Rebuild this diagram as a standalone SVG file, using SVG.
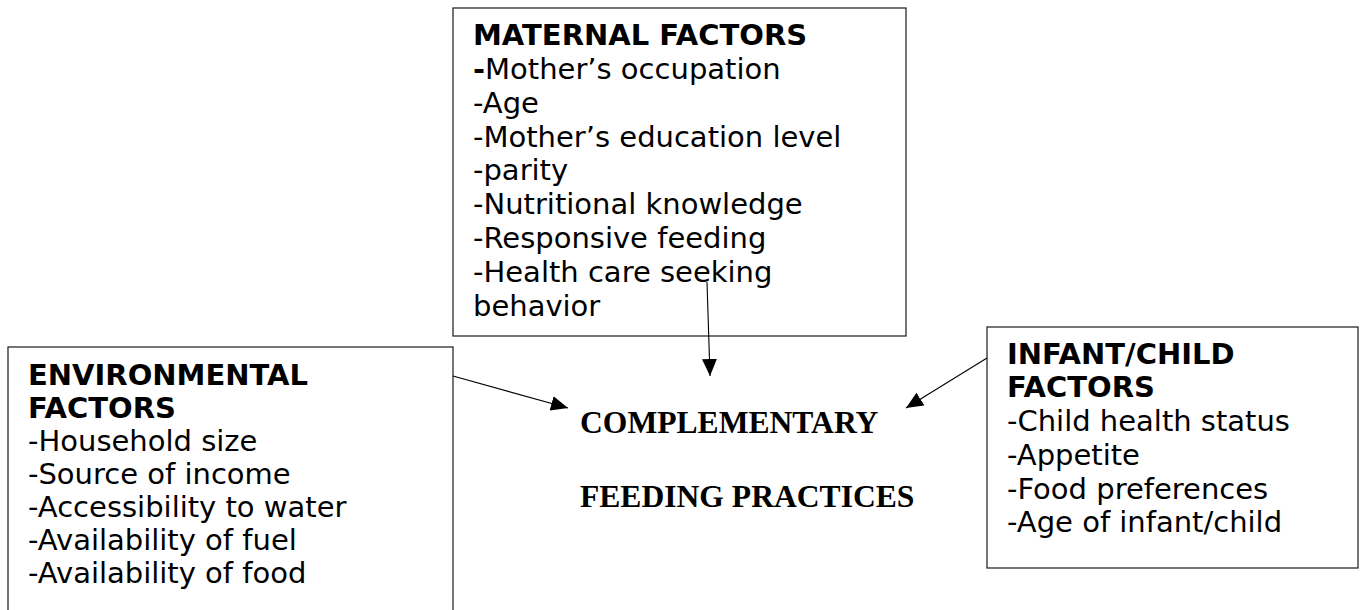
<svg xmlns="http://www.w3.org/2000/svg" width="1362" height="610" viewBox="0 0 1362 610">
  <style>
    .box { fill: #ffffff; stroke: #1a1a1a; stroke-width: 1.2; }
    .txt { font-family: "DejaVu Sans", "Liberation Sans", sans-serif; font-size: 29px; fill: #000; }
    .head { font-weight: bold; }
    .center { font-family: "Liberation Serif", "Times New Roman", serif; font-size: 31.6px; font-weight: bold; fill: #000; }
    .link { stroke: #000; stroke-width: 1.1; fill: none; }
  </style>
  <defs>
    <marker id="arrow" viewBox="0 0 17 15" refX="17" refY="7.5" markerWidth="17" markerHeight="15" markerUnits="userSpaceOnUse" orient="auto">
      <path d="M0,0 L17,7.5 L0,15 Z" fill="#000"/>
    </marker>
  </defs>

  <rect width="1362" height="610" fill="#ffffff"/>

  <!-- Maternal factors -->
  <g id="maternal">
    <rect class="box" x="453" y="8" width="453" height="328"/>
    <text class="txt">
      <tspan class="head" x="473" y="45">MATERNAL FACTORS</tspan>
      <tspan x="473" y="79"><tspan class="head">-</tspan>Mother’s occupation</tspan>
      <tspan x="473" y="113">-Age</tspan>
      <tspan x="473" y="147">-Mother’s education level</tspan>
      <tspan x="473" y="180">-parity</tspan>
      <tspan x="473" y="214">-Nutritional knowledge</tspan>
      <tspan x="473" y="248">-Responsive feeding</tspan>
      <tspan x="473" y="282">-Health care seeking</tspan>
      <tspan x="473" y="316">behavior</tspan>
    </text>
  </g>

  <!-- Environmental factors -->
  <g id="environmental">
    <rect class="box" x="8" y="347" width="445" height="275"/>
    <text class="txt">
      <tspan class="head" x="28" y="385">ENVIRONMENTAL</tspan>
      <tspan class="head" x="28" y="418">FACTORS</tspan>
      <tspan x="28" y="451">-Household size</tspan>
      <tspan x="28" y="484">-Source of income</tspan>
      <tspan x="28" y="517">-Accessibility to water</tspan>
      <tspan x="28" y="550">-Availability of fuel</tspan>
      <tspan x="28" y="583">-Availability of food</tspan>
    </text>
  </g>

  <!-- Infant/child factors -->
  <g id="infant">
    <rect class="box" x="987" y="327" width="371" height="241"/>
    <text class="txt">
      <tspan class="head" x="1007" y="364">INFANT/CHILD</tspan>
      <tspan class="head" x="1007" y="397">FACTORS</tspan>
      <tspan x="1007" y="431">-Child health status</tspan>
      <tspan x="1007" y="465">-Appetite</tspan>
      <tspan x="1007" y="499">-Food preferences</tspan>
      <tspan x="1007" y="532">-Age of infant/child</tspan>
    </text>
  </g>

  <!-- Outcome -->
  <g id="outcome">
    <text class="center" x="580" y="433">COMPLEMENTARY</text>
    <text class="center" x="580" y="507">FEEDING PRACTICES</text>
  </g>

  <!-- Connectors -->
  <g id="connectors">
    <line class="link" x1="707" y1="282" x2="710" y2="376" marker-end="url(#arrow)"/>
    <line class="link" x1="453" y1="376" x2="568" y2="408" marker-end="url(#arrow)"/>
    <line class="link" x1="987" y1="358" x2="906" y2="408" marker-end="url(#arrow)"/>
  </g>
</svg>
